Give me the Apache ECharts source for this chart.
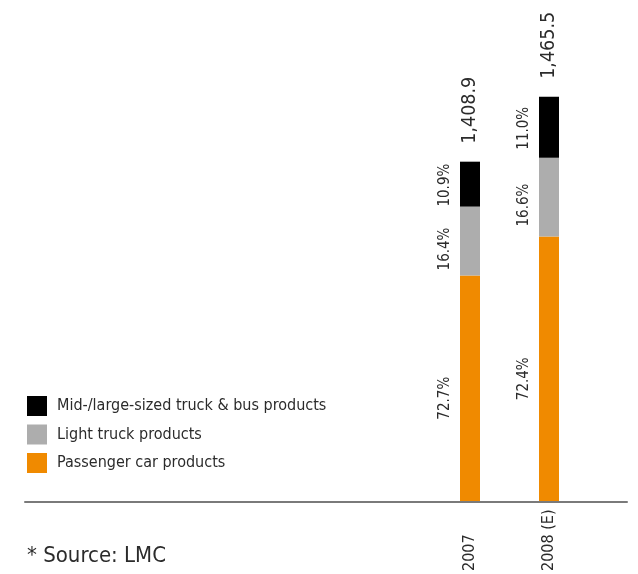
<!DOCTYPE html>
<html>
<head>
<meta charset="utf-8">
<script src="https://cdn.jsdelivr.net/npm/echarts@6/dist/echarts.min.js"></script>
<style>
html,body{margin:0;padding:0;background:#fff;}
#main{width:638px;height:574px;}
</style>
</head>
<body>
<div id="main"></div>
<script>
// Categories (years)
var categories = ['2007', '2008 (E)'];
// Segment heights as drawn in the picture (illustrative units)
var passengerCar = [226, 265];
var lightTruck = [69, 79];
var midLargeTruckBus = [45, 61];
// Text labels printed on the chart
var passengerShare = ['72.7%', '72.4%'];
var lightShare = ['16.4%', '16.6%'];
var midLargeShare = ['10.9%', '11.0%'];
var totals = ['1,408.9', '1,465.5'];
var seriesNames = ['Mid-/large-sized truck & bus products', 'Light truck products', 'Passenger car products'];

var FONT = "'Liberation Sans Narrow', 'DejaVu Sans Condensed', sans-serif";
var TXT = '#2b2b2b';

// label is rotated 90deg, so a screen-down shift is a negative local x offset
function pctLabel(arr, dy) {
  return {
    show: true,
    position: 'left',
    distance: 7,
    rotate: 90,
    align: 'center',
    verticalAlign: 'bottom',
    offset: [-dy, 0],
    fontFamily: FONT,
    fontSize: 15,
    color: TXT,
    formatter: function (p) { return arr[p.dataIndex]; }
  };
}

var chart = echarts.init(document.getElementById('main'));
chart.setOption({
  animation: false,
  backgroundColor: '#fff',
  title: {
    text: '* Source: LMC',
    left: 27,
    top: 545,
    padding: 0,
    textStyle: { fontFamily: FONT, fontSize: 22, fontWeight: 'normal', color: TXT }
  },
  legend: {
    orient: 'vertical',
    left: 27,
    top: 396,
    padding: 0,
    itemWidth: 20,
    itemHeight: 20,
    itemGap: 8.5,
    icon: 'rect',
    data: seriesNames,
    textStyle: { fontFamily: FONT, fontSize: 16, color: TXT, padding: [0, 0, 0, 5] }
  },
  grid: [
    { left: 430.5, width: 158, top: 2, bottom: 72 },
    { left: 25, right: 11, top: 2, bottom: 72 }
  ],
  xAxis: [
    {
      type: 'category',
      gridIndex: 0,
      data: categories,
      axisLine: { show: false },
      axisTick: { show: false },
      axisLabel: {
        rotate: 90,
        align: 'left',
        verticalAlign: 'middle',
        margin: 70,
        fontFamily: FONT,
        fontSize: 16,
        color: TXT
      }
    },
    {
      type: 'value',
      gridIndex: 1,
      min: 0,
      max: 1,
      axisLine: { show: true, lineStyle: { color: '#7a7a7a', width: 2 } },
      axisTick: { show: false },
      axisLabel: { show: false },
      splitLine: { show: false }
    }
  ],
  yAxis: [
    { type: 'value', gridIndex: 0, min: 0, max: 500, show: false },
    { type: 'value', gridIndex: 1, min: 0, max: 500, show: false }
  ],
  series: [
    {
      name: seriesNames[2],
      type: 'bar',
      stack: 'total',
      xAxisIndex: 0,
      yAxisIndex: 0,
      barWidth: 20,
      itemStyle: { color: '#f08a00' },
      label: pctLabel(passengerShare, 10),
      data: passengerCar
    },
    {
      name: seriesNames[1],
      type: 'bar',
      stack: 'total',
      xAxisIndex: 0,
      yAxisIndex: 0,
      barWidth: 20,
      itemStyle: { color: '#adadad' },
      label: pctLabel(lightShare, 8),
      data: lightTruck
    },
    {
      name: seriesNames[0],
      type: 'bar',
      stack: 'total',
      xAxisIndex: 0,
      yAxisIndex: 0,
      barWidth: 20,
      itemStyle: { color: '#000000' },
      label: pctLabel(midLargeShare, 1),
      data: midLargeTruckBus
    },
    {
      name: 'totals',
      type: 'bar',
      stack: 'total',
      xAxisIndex: 0,
      yAxisIndex: 0,
      barWidth: 20,
      itemStyle: { color: 'transparent' },
      label: {
        show: true,
        position: 'top',
        distance: 18,
        rotate: 90,
        align: 'left',
        verticalAlign: 'middle',
        fontFamily: FONT,
        fontSize: 19.5,
        color: TXT,
        formatter: function (p) { return totals[p.dataIndex]; }
      },
      data: [0, 0]
    }
  ]
});
</script>
</body>
</html>
